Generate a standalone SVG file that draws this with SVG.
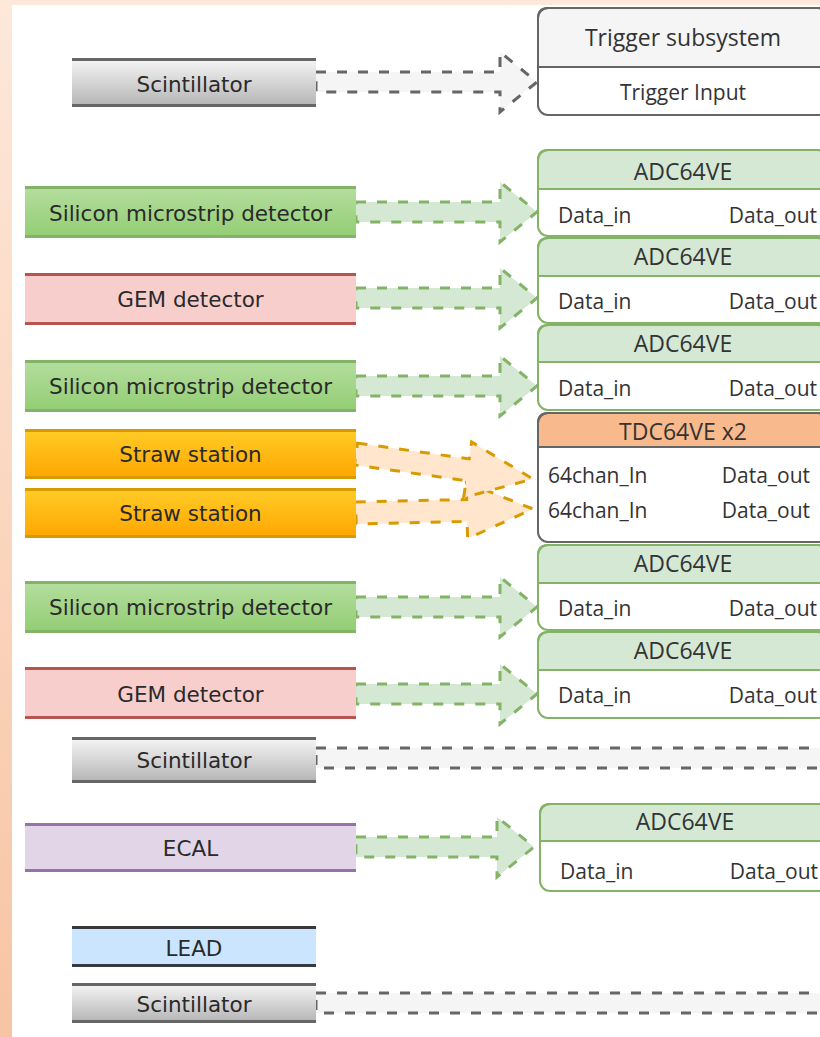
<svg xmlns="http://www.w3.org/2000/svg" width="820" height="1037" viewBox="0 0 820 1037">
<defs>
<linearGradient id="bg" x1="0" y1="0" x2="0" y2="1"><stop offset="0" stop-color="#fde8da"/><stop offset="1" stop-color="#f7c4a3"/></linearGradient>
<linearGradient id="gGray" x1="0" y1="0" x2="0" y2="1"><stop offset="0" stop-color="#f7f7f7"/><stop offset="1" stop-color="#b3b3b3"/></linearGradient>
<linearGradient id="gGreen" x1="0" y1="0" x2="0" y2="1"><stop offset="0" stop-color="#b5de9f"/><stop offset="1" stop-color="#92cd73"/></linearGradient>
<linearGradient id="gOrange" x1="0" y1="0" x2="0" y2="1"><stop offset="0" stop-color="#ffcd28"/><stop offset="1" stop-color="#ffa500"/></linearGradient>
</defs>
<style>
.lbl{font-family:"DejaVu Sans",Verdana,sans-serif;font-size:21.5px;fill:#2a2a2a;text-anchor:middle}
.hdr{font-family:"Open Sans","Segoe UI",sans-serif;font-size:23px;fill:#333;text-anchor:middle}
.row{font-family:"Open Sans","Segoe UI",sans-serif;font-size:21px;fill:#333}
.end{text-anchor:end}
.mid{text-anchor:middle}
.arrG{fill:#f5f5f5;stroke:#666;stroke-width:3;stroke-dasharray:10 11}
.arrGr{fill:#d5e8d4;stroke:#82b366;stroke-width:3;stroke-dasharray:10 11}
.arrO{fill:#ffe6cc;stroke:#d79b00;stroke-width:3;stroke-dasharray:10 11}
.bxG{fill:none;stroke:#82b366;stroke-width:2}
.hdG{fill:#d5e8d4;stroke:#82b366;stroke-width:2}
.body{fill:#fff}
.lnGray{stroke:#666;stroke-width:3}
.lnGreen{stroke:#82b366;stroke-width:3}
.lnRed{stroke:#b85450;stroke-width:3}
.lnOr{stroke:#d79b00;stroke-width:3}
.lnPur{stroke:#9673a6;stroke-width:3}
.lnDark{stroke:#36393d;stroke-width:3}
</style>
<rect x="0" y="0" width="820" height="1037" fill="url(#bg)"/>
<rect x="12" y="5" width="808" height="1032" fill="#fff"/>

<g id="connectors">
<polygon class="arrG" points="316,72 500,72 500,52 537,82 500,112 500,92 316,92"/>
<polygon class="arrGr" points="356,202 500,202 500,182 537,212 500,242 500,222 356,222"/>
<polygon class="arrGr" points="356,288 500,288 500,268 537,298 500,328 500,308 356,308"/>
<polygon class="arrGr" points="356,376 500,376 500,356 537,386 500,416 500,396 356,396"/>
<polygon class="arrO" points="355.7,502 466.7,499.5 466.4,482.5 533,509 467.6,538.5 467.2,521.5 356.2,524"/>
<polygon class="arrO" points="357.5,443.1 469.2,458.9 471.6,442 533,479 463.7,497.5 466.1,480.7 354.5,464.9"/>
<polygon class="arrGr" points="356,597 500,597 500,577 537,607 500,637 500,617 356,617"/>
<polygon class="arrGr" points="356,684 500,684 500,664 537,694 500,724 500,704 356,704"/>
<polygon class="arrG" points="316,748 840,748 840,768 316,768"/>
<polygon class="arrGr" points="356,837 497,837 497,817 534,847 497,877 497,857 356,857"/>
<polygon class="arrG" points="316,993 840,993 840,1013 316,1013"/>
</g>

<g id="scint1">
<rect x="72" y="58" width="244" height="49" fill="url(#gGray)"/>
<line class="lnGray" x1="72" y1="59.5" x2="316" y2="59.5"/><line class="lnGray" x1="72" y1="105.5" x2="316" y2="105.5"/>
<text class="lbl" x="194" y="92">Scintillator</text>
</g>
<g id="silicon1">
<rect x="25" y="186" width="331" height="52" fill="url(#gGreen)"/>
<line class="lnGreen" x1="25" y1="187.5" x2="356" y2="187.5"/><line class="lnGreen" x1="25" y1="236.5" x2="356" y2="236.5"/>
<text class="lbl" x="190.5" y="221">Silicon microstrip detector</text>
</g>
<g id="gem1">
<rect x="25" y="273" width="331" height="52" fill="#f8cecc"/>
<line class="lnRed" x1="25" y1="274.5" x2="356" y2="274.5"/><line class="lnRed" x1="25" y1="323.5" x2="356" y2="323.5"/>
<text class="lbl" x="190.5" y="307">GEM detector</text>
</g>
<g id="silicon2">
<rect x="25" y="360" width="331" height="52" fill="url(#gGreen)"/>
<line class="lnGreen" x1="25" y1="361.5" x2="356" y2="361.5"/><line class="lnGreen" x1="25" y1="410.5" x2="356" y2="410.5"/>
<text class="lbl" x="190.5" y="394">Silicon microstrip detector</text>
</g>
<g id="straw1">
<rect x="25" y="429" width="331" height="50" fill="url(#gOrange)"/>
<line class="lnOr" x1="25" y1="430.5" x2="356" y2="430.5"/><line class="lnOr" x1="25" y1="477.5" x2="356" y2="477.5"/>
<text class="lbl" x="190.5" y="462">Straw station</text>
</g>
<g id="straw2">
<rect x="25" y="488" width="331" height="50" fill="url(#gOrange)"/>
<line class="lnOr" x1="25" y1="489.5" x2="356" y2="489.5"/><line class="lnOr" x1="25" y1="536.5" x2="356" y2="536.5"/>
<text class="lbl" x="190.5" y="521">Straw station</text>
</g>
<g id="silicon3">
<rect x="25" y="581" width="331" height="52" fill="url(#gGreen)"/>
<line class="lnGreen" x1="25" y1="582.5" x2="356" y2="582.5"/><line class="lnGreen" x1="25" y1="631.5" x2="356" y2="631.5"/>
<text class="lbl" x="190.5" y="615">Silicon microstrip detector</text>
</g>
<g id="gem2">
<rect x="25" y="667" width="331" height="52" fill="#f8cecc"/>
<line class="lnRed" x1="25" y1="668.5" x2="356" y2="668.5"/><line class="lnRed" x1="25" y1="717.5" x2="356" y2="717.5"/>
<text class="lbl" x="190.5" y="702">GEM detector</text>
</g>
<g id="scint2">
<rect x="72" y="737" width="244" height="46" fill="url(#gGray)"/>
<line class="lnGray" x1="72" y1="738.5" x2="316" y2="738.5"/><line class="lnGray" x1="72" y1="781.5" x2="316" y2="781.5"/>
<text class="lbl" x="194" y="768">Scintillator</text>
</g>
<g id="ecal">
<rect x="25" y="823" width="331" height="49" fill="#e1d5e7"/>
<line class="lnPur" x1="25" y1="824.5" x2="356" y2="824.5"/><line class="lnPur" x1="25" y1="870.5" x2="356" y2="870.5"/>
<text class="lbl" x="190.5" y="856">ECAL</text>
</g>
<g id="lead">
<rect x="72" y="926" width="244" height="41" fill="#cce5ff"/>
<line class="lnDark" x1="72" y1="927.5" x2="316" y2="927.5"/><line class="lnDark" x1="72" y1="965.5" x2="316" y2="965.5"/>
<text class="lbl" x="194" y="956">LEAD</text>
</g>
<g id="scint3">
<rect x="72" y="983" width="244" height="40" fill="url(#gGray)"/>
<line class="lnGray" x1="72" y1="984.5" x2="316" y2="984.5"/><line class="lnGray" x1="72" y1="1021.5" x2="316" y2="1021.5"/>
<text class="lbl" x="194" y="1012">Scintillator</text>
</g>

<g id="trigger">
<rect class="body" x="538" y="8" width="290" height="107" rx="10"/>
<path d="M538,67 V18 Q538,8 548,8 H818 Q828,8 828,18 V67 Z" fill="#f5f5f5" stroke="#666" stroke-width="2"/>
<rect x="538" y="8" width="290" height="107" rx="10" fill="none" stroke="#666" stroke-width="2"/>
<text class="hdr" x="683" y="46">Trigger subsystem</text>
<text class="row mid" x="683" y="100">Trigger Input</text>
</g>
<g id="adc1">
<rect class="body" x="538" y="150" width="290" height="86" rx="10"/>
<path class="hdG" d="M538,189 V160 Q538,150 548,150 H818 Q828,150 828,160 V189 Z"/>
<rect class="bxG" x="538" y="150" width="290" height="86" rx="10"/>
<text class="hdr" x="683" y="180">ADC64VE</text>
<text class="row" x="558" y="223">Data_in</text><text class="row end" x="817" y="223">Data_out</text>
</g>
<g id="adc2">
<rect class="body" x="538" y="238" width="290" height="85" rx="10"/>
<path class="hdG" d="M538,276 V248 Q538,238 548,238 H818 Q828,238 828,248 V276 Z"/>
<rect class="bxG" x="538" y="238" width="290" height="85" rx="10"/>
<text class="hdr" x="683" y="265">ADC64VE</text>
<text class="row" x="558" y="309">Data_in</text><text class="row end" x="817" y="309">Data_out</text>
</g>
<g id="adc3">
<rect class="body" x="538" y="325" width="290" height="85" rx="10"/>
<path class="hdG" d="M538,362 V335 Q538,325 548,325 H818 Q828,325 828,335 V362 Z"/>
<rect class="bxG" x="538" y="325" width="290" height="85" rx="10"/>
<text class="hdr" x="683" y="352">ADC64VE</text>
<text class="row" x="558" y="396">Data_in</text><text class="row end" x="817" y="396">Data_out</text>
</g>
<g id="tdc">
<rect class="body" x="538" y="413" width="290" height="129" rx="10"/>
<path d="M538,447 V423 Q538,413 548,413 H818 Q828,413 828,423 V447 Z" fill="#f8b98c" stroke="#666" stroke-width="2"/>
<rect x="538" y="413" width="290" height="129" rx="10" fill="none" stroke="#666" stroke-width="2"/>
<text class="hdr" x="683" y="440">TDC64VE x2</text>
<text class="row" x="548" y="483">64chan_In</text><text class="row end" x="810" y="483">Data_out</text>
<text class="row" x="548" y="518">64chan_In</text><text class="row end" x="810" y="518">Data_out</text>
</g>
<g id="adc4">
<rect class="body" x="538" y="545" width="290" height="85" rx="10"/>
<path class="hdG" d="M538,583 V555 Q538,545 548,545 H818 Q828,545 828,555 V583 Z"/>
<rect class="bxG" x="538" y="545" width="290" height="85" rx="10"/>
<text class="hdr" x="683" y="572">ADC64VE</text>
<text class="row" x="558" y="616">Data_in</text><text class="row end" x="817" y="616">Data_out</text>
</g>
<g id="adc5">
<rect class="body" x="538" y="632" width="290" height="86" rx="10"/>
<path class="hdG" d="M538,670 V642 Q538,632 548,632 H818 Q828,632 828,642 V670 Z"/>
<rect class="bxG" x="538" y="632" width="290" height="86" rx="10"/>
<text class="hdr" x="683" y="659">ADC64VE</text>
<text class="row" x="558" y="703">Data_in</text><text class="row end" x="817" y="703">Data_out</text>
</g>
<g id="adc6">
<rect class="body" x="540" y="804" width="290" height="87" rx="10"/>
<path class="hdG" d="M540,841 V814 Q540,804 550,804 H820 Q830,804 830,814 V841 Z"/>
<rect class="bxG" x="540" y="804" width="290" height="87" rx="10"/>
<text class="hdr" x="685" y="830">ADC64VE</text>
<text class="row" x="560" y="879">Data_in</text><text class="row end" x="818" y="879">Data_out</text>
</g>
</svg>
